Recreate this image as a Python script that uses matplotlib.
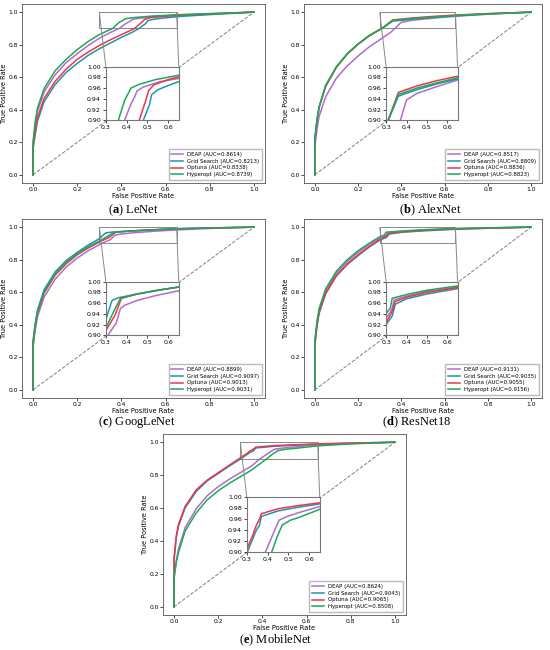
import matplotlib
matplotlib.use("Agg")
import matplotlib.pyplot as plt
from mpl_toolkits.axes_grid1.inset_locator import mark_inset

plt.rcParams['mathtext.fontset'] = 'custom'
plt.rcParams['mathtext.rm'] = 'Liberation Serif'
plt.rcParams['mathtext.bf'] = 'Liberation Serif:bold'

methods = ["DEAP", "Grid Search", "Optuna", "Hyperopt"]
colors = ["#b06ccc", "#1f95a8", "#f0344a", "#1caa55"]
diag = [0, 1]

# (a) LeNet
lenet_auc = [0.8614, 0.8213, 0.8338, 0.8739]
lenet_fpr_deap = [0, 0, 0.01, 0.02, 0.05, 0.1, 0.15, 0.2, 0.25, 0.3, 0.35, 0.39, 0.42, 0.44, 0.45, 0.48, 0.56, 0.65, 0.8, 1.0]
lenet_tpr_deap = [0, 0.19, 0.31, 0.39, 0.51, 0.615, 0.69, 0.745, 0.795, 0.84, 0.875, 0.90, 0.93, 0.945, 0.955, 0.962, 0.972, 0.978, 0.988, 1.0]
lenet_fpr_grid = [0, 0, 0.01, 0.02, 0.05, 0.1, 0.15, 0.2, 0.25, 0.3, 0.35, 0.4, 0.45, 0.48, 0.51, 0.52, 0.55, 0.6, 0.65, 0.8, 1.0]
lenet_tpr_grid = [0, 0.16, 0.25, 0.33, 0.45, 0.555, 0.63, 0.685, 0.735, 0.775, 0.81, 0.845, 0.877, 0.90, 0.93, 0.948, 0.957, 0.965, 0.972, 0.985, 1.0]
lenet_fpr_optuna = [0, 0, 0.01, 0.02, 0.05, 0.1, 0.15, 0.2, 0.25, 0.3, 0.35, 0.4, 0.46, 0.49, 0.505, 0.53, 0.6, 0.65, 0.8, 1.0]
lenet_tpr_optuna = [0, 0.17, 0.27, 0.35, 0.47, 0.575, 0.65, 0.71, 0.755, 0.795, 0.83, 0.862, 0.90, 0.935, 0.955, 0.966, 0.976, 0.981, 0.99, 1.0]
lenet_fpr_hyperopt = [0, 0, 0.01, 0.02, 0.05, 0.1, 0.15, 0.2, 0.25, 0.3, 0.36, 0.39, 0.41, 0.42, 0.46, 0.54, 0.65, 0.8, 1.0]
lenet_tpr_hyperopt = [0, 0.2, 0.33, 0.41, 0.53, 0.64, 0.71, 0.77, 0.82, 0.862, 0.90, 0.937, 0.952, 0.96, 0.967, 0.976, 0.984, 0.991, 1.0]

# (b) AlexNet
alexnet_auc = [0.8517, 0.8809, 0.8836, 0.8823]
alexnet_fpr_deap = [0, 0, 0.01, 0.02, 0.05, 0.1, 0.15, 0.2, 0.25, 0.3, 0.35, 0.37, 0.40, 0.45, 0.55, 0.65, 0.8, 1.0]
alexnet_tpr_deap = [0, 0.17, 0.28, 0.36, 0.48, 0.595, 0.67, 0.73, 0.785, 0.83, 0.875, 0.90, 0.938, 0.95, 0.963, 0.975, 0.987, 1.0]
alexnet_fpr_grid = [0, 0, 0.01, 0.02, 0.05, 0.1, 0.15, 0.2, 0.25, 0.3, 0.31, 0.36, 0.45, 0.55, 0.65, 0.8, 1.0]
alexnet_tpr_grid = [0, 0.21, 0.335, 0.415, 0.545, 0.662, 0.743, 0.803, 0.853, 0.892, 0.90, 0.945, 0.957, 0.968, 0.977, 0.989, 1.0]
alexnet_fpr_optuna = [0, 0, 0.01, 0.02, 0.05, 0.1, 0.15, 0.2, 0.25, 0.3, 0.31, 0.36, 0.45, 0.55, 0.65, 0.8, 1.0]
alexnet_tpr_optuna = [0, 0.21, 0.335, 0.415, 0.545, 0.662, 0.743, 0.803, 0.854, 0.893, 0.90, 0.952, 0.964, 0.974, 0.982, 0.991, 1.0]
alexnet_fpr_hyperopt = [0, 0, 0.01, 0.02, 0.05, 0.1, 0.15, 0.2, 0.25, 0.3, 0.31, 0.36, 0.45, 0.55, 0.65, 0.8, 1.0]
alexnet_tpr_hyperopt = [0, 0.22, 0.34, 0.42, 0.55, 0.665, 0.745, 0.805, 0.855, 0.893, 0.90, 0.948, 0.960, 0.970, 0.979, 0.99, 1.0]

# (c) GoogLeNet
googlenet_auc = [0.8899, 0.9097, 0.9013, 0.9031]
googlenet_fpr_deap = [0, 0, 0.01, 0.02, 0.05, 0.1, 0.15, 0.2, 0.25, 0.3, 0.31, 0.35, 0.37, 0.39, 0.45, 0.55, 0.65, 0.8, 1.0]
googlenet_tpr_deap = [0, 0.26, 0.37, 0.45, 0.57, 0.68, 0.755, 0.81, 0.855, 0.892, 0.90, 0.923, 0.95, 0.956, 0.965, 0.975, 0.983, 0.992, 1.0]
googlenet_fpr_grid = [0, 0, 0.01, 0.02, 0.05, 0.1, 0.15, 0.2, 0.25, 0.3, 0.315, 0.33, 0.36, 0.45, 0.55, 0.65, 0.8, 1.0]
googlenet_tpr_grid = [0, 0.3, 0.41, 0.49, 0.615, 0.725, 0.795, 0.845, 0.89, 0.929, 0.948, 0.965, 0.970, 0.977, 0.984, 0.99, 0.995, 1.0]
googlenet_fpr_optuna = [0, 0, 0.01, 0.02, 0.05, 0.1, 0.15, 0.2, 0.25, 0.3, 0.345, 0.36, 0.375, 0.45, 0.55, 0.65, 0.8, 1.0]
googlenet_tpr_optuna = [0, 0.28, 0.39, 0.47, 0.595, 0.705, 0.775, 0.83, 0.872, 0.909, 0.938, 0.954, 0.969, 0.977, 0.984, 0.99, 0.995, 1.0]
googlenet_fpr_hyperopt = [0, 0, 0.01, 0.02, 0.05, 0.1, 0.15, 0.2, 0.25, 0.3, 0.35, 0.37, 0.45, 0.55, 0.65, 0.8, 1.0]
googlenet_tpr_hyperopt = [0, 0.29, 0.40, 0.48, 0.605, 0.715, 0.785, 0.837, 0.88, 0.914, 0.954, 0.969, 0.977, 0.984, 0.99, 0.995, 1.0]

# (d) ResNet18
resnet_auc = [0.9131, 0.9035, 0.9055, 0.9156]
resnet_fpr_deap = [0, 0, 0.01, 0.02, 0.05, 0.1, 0.15, 0.2, 0.25, 0.3, 0.327, 0.34, 0.4, 0.5, 0.65, 0.8, 1.0]
resnet_tpr_deap = [0, 0.29, 0.41, 0.49, 0.61, 0.72, 0.79, 0.845, 0.893, 0.932, 0.947, 0.966, 0.973, 0.982, 0.99, 0.995, 1.0]
resnet_fpr_grid = [0, 0, 0.01, 0.02, 0.05, 0.1, 0.15, 0.2, 0.25, 0.3, 0.33, 0.345, 0.4, 0.5, 0.65, 0.8, 1.0]
resnet_tpr_grid = [0, 0.27, 0.39, 0.47, 0.59, 0.70, 0.77, 0.825, 0.876, 0.92, 0.936, 0.958, 0.968, 0.977, 0.987, 0.993, 1.0]
resnet_fpr_optuna = [0, 0, 0.01, 0.02, 0.05, 0.1, 0.15, 0.2, 0.25, 0.3, 0.327, 0.345, 0.4, 0.5, 0.65, 0.8, 1.0]
resnet_tpr_optuna = [0, 0.28, 0.40, 0.48, 0.595, 0.705, 0.775, 0.83, 0.88, 0.924, 0.942, 0.963, 0.971, 0.98, 0.989, 0.994, 1.0]
resnet_fpr_hyperopt = [0, 0, 0.01, 0.02, 0.05, 0.1, 0.15, 0.2, 0.25, 0.3, 0.32, 0.33, 0.4, 0.5, 0.65, 0.8, 1.0]
resnet_tpr_hyperopt = [0, 0.3, 0.42, 0.5, 0.62, 0.73, 0.8, 0.855, 0.9, 0.941, 0.95, 0.969, 0.976, 0.984, 0.992, 0.996, 1.0]

# (e) MobileNet
mobilenet_auc = [0.8624, 0.9043, 0.9065, 0.8508]
mobilenet_fpr_deap = [0, 0, 0.01, 0.02, 0.05, 0.1, 0.15, 0.2, 0.25, 0.3, 0.35, 0.39, 0.43, 0.455, 0.495, 0.55, 0.65, 0.8, 1.0]
mobilenet_tpr_deap = [0, 0.18, 0.28, 0.35, 0.48, 0.595, 0.675, 0.73, 0.775, 0.815, 0.855, 0.90, 0.936, 0.958, 0.965, 0.972, 0.983, 0.992, 1.0]
mobilenet_fpr_grid = [0, 0, 0.01, 0.02, 0.05, 0.1, 0.15, 0.2, 0.25, 0.303, 0.345, 0.36, 0.37, 0.45, 0.55, 0.65, 0.8, 1.0]
mobilenet_tpr_grid = [0, 0.28, 0.42, 0.49, 0.6, 0.70, 0.765, 0.81, 0.855, 0.90, 0.939, 0.948, 0.965, 0.975, 0.982, 0.988, 0.994, 1.0]
mobilenet_fpr_optuna = [0, 0, 0.01, 0.02, 0.05, 0.1, 0.15, 0.2, 0.25, 0.3, 0.325, 0.345, 0.362, 0.37, 0.45, 0.55, 0.65, 0.8, 1.0]
mobilenet_tpr_optuna = [0, 0.3, 0.43, 0.5, 0.61, 0.71, 0.77, 0.815, 0.86, 0.905, 0.927, 0.948, 0.961, 0.97, 0.979, 0.985, 0.99, 0.995, 1.0]
mobilenet_fpr_hyperopt = [0, 0, 0.01, 0.02, 0.05, 0.1, 0.15, 0.2, 0.25, 0.3, 0.35, 0.42, 0.445, 0.47, 0.51, 0.55, 0.65, 0.8, 1.0]
mobilenet_tpr_hyperopt = [0, 0.17, 0.27, 0.33, 0.46, 0.57, 0.65, 0.705, 0.75, 0.79, 0.83, 0.90, 0.927, 0.949, 0.958, 0.963, 0.978, 0.99, 1.0]


def draw_panel(fig, rect, fprs, tprs, aucs, letter, name, cap_x, cap_y):
    ax = fig.add_axes(rect)
    ax.plot(diag, diag, linestyle="--", color="gray", lw=0.7)
    for m, c, fpr, tpr, auc in zip(methods, colors, fprs, tprs, aucs):
        ax.plot(fpr, tpr, color=c, lw=1.1, label=f"{m} (AUC={auc:.4f})")
    ax.set_xlim(-0.05, 1.05)
    ax.set_ylim(-0.05, 1.05)
    ax.set_xticks([0, 0.2, 0.4, 0.6, 0.8, 1.0])
    ax.set_yticks([0, 0.2, 0.4, 0.6, 0.8, 1.0])
    ax.tick_params(labelsize=4.3, length=2, width=0.5, pad=1)
    ax.set_xlabel("False Positive Rate", fontsize=4.8, labelpad=0.5)
    ax.set_ylabel("True Positive Rate", fontsize=4.8, labelpad=1)
    for s in ax.spines.values():
        s.set_linewidth(0.6)
        s.set_color("#555555")
    ax.legend(loc="lower right", fontsize=3.9, handlelength=2.1, borderpad=0.55,
              labelspacing=0.35, frameon=True, fancybox=False, edgecolor="#aaaaaa")

    axins = ax.inset_axes([0.345, 0.35, 0.3, 0.3])
    for c, fpr, tpr in zip(colors, fprs, tprs):
        axins.plot(fpr, tpr, color=c, lw=1.1)
    axins.set_xlim(0.3, 0.65)
    axins.set_ylim(0.9, 1.0)
    axins.set_xticks([0.3, 0.4, 0.5, 0.6])
    axins.set_yticks([0.90, 0.92, 0.94, 0.96, 0.98, 1.00])
    axins.set_yticklabels([f"{v:.2f}" for v in [0.90, 0.92, 0.94, 0.96, 0.98, 1.00]])
    axins.tick_params(labelsize=4.5, length=2, width=0.5, pad=1.5)
    for s in axins.spines.values():
        s.set_linewidth(0.8)
        s.set_color("#777777")
    mark_inset(ax, axins, loc1=2, loc2=1, fc="none", ec="#888888", lw=0.7)

    fig.text(cap_x, cap_y, r"($\mathbf{%s}$) %s" % (letter, name),
             ha="center", va="center", fontsize=9, family="Liberation Serif")
    return ax


fig = plt.figure(figsize=(5.5, 6.5), dpi=100)

draw_panel(fig, [22 / 550, 1 - 183 / 650, 243 / 550, 179 / 650],
           [lenet_fpr_deap, lenet_fpr_grid, lenet_fpr_optuna, lenet_fpr_hyperopt],
           [lenet_tpr_deap, lenet_tpr_grid, lenet_tpr_optuna, lenet_tpr_hyperopt],
           lenet_auc, "a", "LeNet", 133 / 550, 1 - 210 / 650)
draw_panel(fig, [304 / 550, 1 - 183 / 650, 238 / 550, 179 / 650],
           [alexnet_fpr_deap, alexnet_fpr_grid, alexnet_fpr_optuna, alexnet_fpr_hyperopt],
           [alexnet_tpr_deap, alexnet_tpr_grid, alexnet_tpr_optuna, alexnet_tpr_hyperopt],
           alexnet_auc, "b", "AlexNet", 430 / 550, 1 - 210 / 650)
draw_panel(fig, [22 / 550, 1 - 398 / 650, 243 / 550, 179 / 650],
           [googlenet_fpr_deap, googlenet_fpr_grid, googlenet_fpr_optuna, googlenet_fpr_hyperopt],
           [googlenet_tpr_deap, googlenet_tpr_grid, googlenet_tpr_optuna, googlenet_tpr_hyperopt],
           googlenet_auc, "c", "GoogLeNet", 137 / 550, 1 - 422 / 650)
draw_panel(fig, [304 / 550, 1 - 398 / 650, 238 / 550, 179 / 650],
           [resnet_fpr_deap, resnet_fpr_grid, resnet_fpr_optuna, resnet_fpr_hyperopt],
           [resnet_tpr_deap, resnet_tpr_grid, resnet_tpr_optuna, resnet_tpr_hyperopt],
           resnet_auc, "d", "ResNet18", 417 / 550, 1 - 422 / 650)
draw_panel(fig, [163 / 550, 1 - 615 / 650, 243 / 550, 181 / 650],
           [mobilenet_fpr_deap, mobilenet_fpr_grid, mobilenet_fpr_optuna, mobilenet_fpr_hyperopt],
           [mobilenet_tpr_deap, mobilenet_tpr_grid, mobilenet_tpr_optuna, mobilenet_tpr_hyperopt],
           mobilenet_auc, "e", "MobileNet", 276 / 550, 1 - 640 / 650)

fig.savefig("out.png", dpi=100)
